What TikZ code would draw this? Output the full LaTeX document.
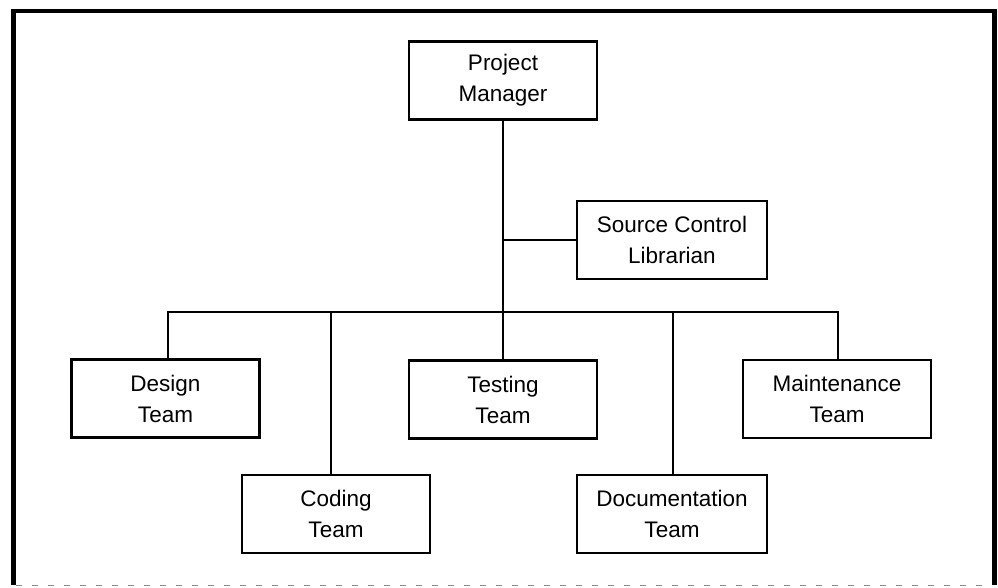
\documentclass[tikz,border=0pt]{standalone}
\usepackage{fontspec}
\setmainfont{Liberation Sans}
\begin{document}
\begin{tikzpicture}[x=1pt,y=-1pt,
  box/.style={draw=black,line width=2.2pt,minimum width=188pt,minimum height=78pt,
    inner sep=0pt,align=center,font=\fontsize{22.5}{31}\selectfont},
  link/.style={draw=black,line width=1.4pt},
  frameline/.style={draw=black,line width=4.5pt}]
\useasboundingbox (0,0) rectangle (998,587);
\fill[white] (0,0) rectangle (998,587);
% frame
\draw[frameline] (13.5,585) -- (13.5,11) -- (994.5,11) -- (994.5,585);
\draw[black!45,line width=0.8pt,dash pattern=on 6pt off 10pt] (16,585) -- (992,585);
% nodes
\node[box] (pm) at (503,80.5) {Project\\Manager};
\node[box,minimum width=190pt] (scl) at (672,240) {Source Control\\Librarian};
\node[box] (design) at (165.5,398.5) {Design\\Team};
\node[box] (coding) at (336,514) {Coding\\Team};
\node[box] (testing) at (503,399.5) {Testing\\Team};
\node[box,minimum width=190pt] (doc) at (672,514) {Documentation\\Team};
\node[box] (maint) at (837,399) {Maintenance\\Team};
% junction coordinates
\coordinate (barL) at (168,312);
\coordinate (barR) at (838,312);
\coordinate (cj) at (331,312);
\coordinate (dj) at (673,312);
% connectors
\draw[link] (pm.south) -- (testing.north);
\draw[link] (scl.west) -- (scl.west -| pm.south);
\draw[link] (design.north -| barL) -- (barL) -- (barR) -- (maint.north -| barR);
\draw[link] (cj) -- (coding.north -| cj);
\draw[link] (dj) -- (doc.north -| dj);
\end{tikzpicture}
\end{document}
